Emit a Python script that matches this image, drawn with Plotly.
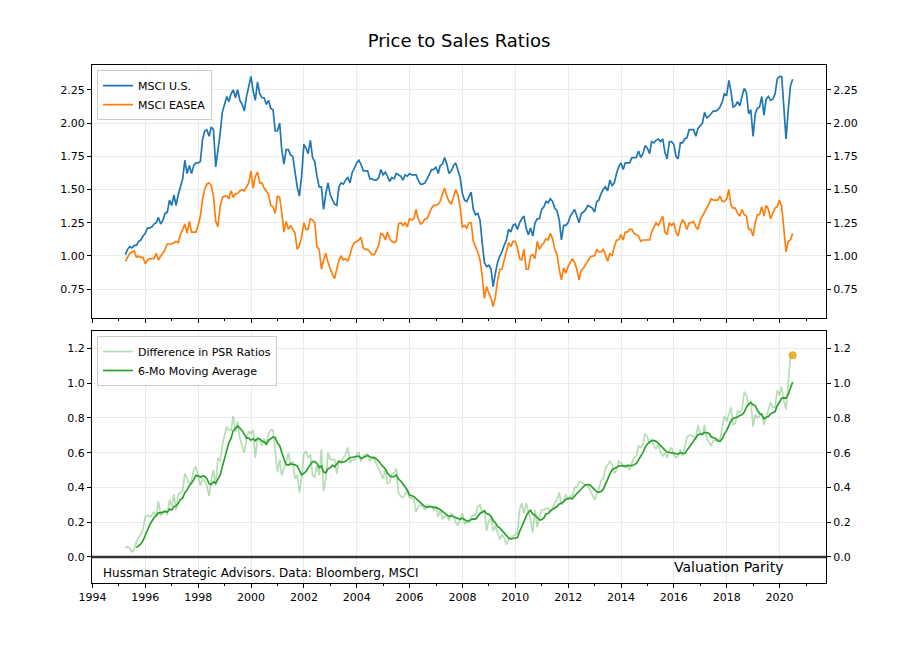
import numpy as np
import pandas as pd
import plotly.graph_objects as go

# ---------------- data (monthly, month-end, Mar 1995 .. Jun 2020) ----------------
first_month = "1995-03-01"

msci_us = [
    1.01, 1.05, 1.07, 1.06, 1.08, 1.08, 1.11, 1.12, 1.15, 1.17, 1.21, 1.21,
    1.22, 1.24, 1.25, 1.29, 1.24, 1.27, 1.32, 1.33, 1.42, 1.38, 1.46, 1.38,
    1.46, 1.53, 1.58, 1.72, 1.62, 1.68, 1.62, 1.68, 1.70, 1.70, 1.71, 1.87,
    1.94, 1.95, 1.90, 1.97, 1.95, 1.67, 1.79, 1.92, 2.08, 2.15, 2.20, 2.16,
    2.22, 2.25, 2.19, 2.25, 2.17, 2.14, 2.09, 2.20, 2.27, 2.35, 2.24, 2.17,
    2.31, 2.22, 2.19, 2.19, 2.14, 2.17, 2.11, 2.10, 1.94, 1.94, 2.00, 1.80,
    1.69, 1.80, 1.80, 1.76, 1.75, 1.62, 1.52, 1.45, 1.60, 1.84, 1.81, 1.77,
    1.87, 1.74, 1.71, 1.60, 1.52, 1.52, 1.35, 1.47, 1.55, 1.46, 1.42, 1.39,
    1.38, 1.52, 1.55, 1.54, 1.57, 1.59, 1.55, 1.63, 1.66, 1.70, 1.72, 1.69,
    1.64, 1.64, 1.64, 1.58, 1.58, 1.57, 1.57, 1.59, 1.65, 1.61, 1.63, 1.60,
    1.56, 1.59, 1.58, 1.62, 1.61, 1.60, 1.57, 1.61, 1.60, 1.62, 1.61, 1.61,
    1.61, 1.57, 1.54, 1.54, 1.55, 1.58, 1.61, 1.65, 1.65, 1.67, 1.62, 1.68,
    1.69, 1.74, 1.69, 1.62, 1.64, 1.68, 1.70, 1.64, 1.59, 1.47, 1.42, 1.41,
    1.45, 1.48, 1.35, 1.31, 1.32, 1.27, 1.10, 0.95, 0.92, 0.93, 0.90, 0.77,
    0.87, 0.95, 1.00, 1.03, 1.08, 1.12, 1.20, 1.18, 1.23, 1.24, 1.20, 1.25,
    1.28, 1.30, 1.21, 1.16, 1.21, 1.15, 1.25, 1.28, 1.28, 1.35, 1.37, 1.41,
    1.40, 1.43, 1.41, 1.36, 1.34, 1.27, 1.12, 1.23, 1.23, 1.25, 1.30, 1.33,
    1.35, 1.30, 1.25, 1.32, 1.33, 1.35, 1.38, 1.37, 1.36, 1.33, 1.41, 1.42,
    1.47, 1.50, 1.52, 1.49, 1.57, 1.53, 1.55, 1.62, 1.67, 1.70, 1.65, 1.70,
    1.70, 1.70, 1.74, 1.74, 1.74, 1.79, 1.74, 1.77, 1.83, 1.81, 1.77, 1.86,
    1.85, 1.87, 1.88, 1.86, 1.88, 1.78, 1.73, 1.86, 1.86, 1.84, 1.75, 1.73,
    1.85, 1.85, 1.88, 1.89, 1.95, 1.95, 1.95, 1.90, 1.96, 1.98, 2.00, 2.08,
    2.04, 2.05, 2.07, 2.09, 2.09, 2.10, 2.12, 2.16, 2.22, 2.21, 2.32, 2.24,
    2.12, 2.13, 2.16, 2.13, 2.20, 2.26, 2.23, 2.07, 2.10, 1.90, 2.07, 2.11,
    2.12, 2.20, 2.06, 2.18, 2.20, 2.17, 2.18, 2.22, 2.33, 2.35, 2.35, 2.10,
    1.88, 2.10, 2.28, 2.33,
]

msci_easea = [
    0.96, 0.99, 1.02, 1.03, 1.04, 0.99, 1.00, 0.99, 0.99, 0.94, 0.97, 0.98,
    0.98, 0.98, 1.02, 0.97, 1.00, 1.02, 1.05, 1.09, 1.09, 1.09, 1.10, 1.11,
    1.10, 1.16, 1.20, 1.24, 1.17, 1.26, 1.18, 1.18, 1.18, 1.23, 1.30, 1.42,
    1.50, 1.54, 1.55, 1.53, 1.45, 1.26, 1.22, 1.37, 1.44, 1.45, 1.45, 1.43,
    1.49, 1.44, 1.47, 1.47, 1.49, 1.50, 1.49, 1.52, 1.55, 1.64, 1.51, 1.60,
    1.63, 1.55, 1.55, 1.51, 1.49, 1.46, 1.38, 1.37, 1.32, 1.45, 1.44, 1.33,
    1.18, 1.26, 1.20, 1.23, 1.20, 1.17, 1.05, 1.08, 1.14, 1.25, 1.20, 1.20,
    1.28, 1.27, 1.25, 1.07, 1.05, 0.90, 0.97, 1.02, 0.95, 0.90, 0.86, 0.83,
    0.90, 0.97, 1.00, 0.97, 0.98, 0.96, 1.01, 1.07, 1.10, 1.11, 1.12, 1.14,
    1.06, 1.05, 1.05, 1.03, 1.01, 1.01, 1.04, 1.08, 1.17, 1.16, 1.12, 1.18,
    1.13, 1.11, 1.10, 1.11, 1.24, 1.25, 1.23, 1.25, 1.22, 1.28, 1.27, 1.28,
    1.35, 1.28, 1.24, 1.25, 1.28, 1.28, 1.32, 1.36, 1.38, 1.38, 1.39, 1.41,
    1.47, 1.51, 1.45, 1.41, 1.39, 1.44, 1.50, 1.46, 1.37, 1.22, 1.23, 1.21,
    1.25, 1.25, 1.11, 1.07, 1.03, 0.97, 0.85, 0.68, 0.77, 0.72, 0.68, 0.62,
    0.69, 0.81, 0.90, 0.90, 0.97, 1.05, 1.10, 1.07, 1.11, 1.11, 1.06, 0.98,
    0.97, 1.05, 0.90, 0.90, 1.00, 1.01, 0.98, 1.11, 1.05, 1.08, 1.10, 1.13,
    1.12, 1.17, 1.13, 1.05, 1.01, 0.90, 0.82, 0.91, 0.87, 0.92, 0.95, 0.98,
    0.95, 0.90, 0.82, 0.89, 0.91, 0.94, 0.97, 0.99, 1.00, 1.00, 1.05, 1.03,
    1.03, 1.05, 1.01, 0.96, 1.02, 1.00, 1.07, 1.12, 1.12, 1.16, 1.12, 1.18,
    1.18, 1.20, 1.20, 1.17, 1.16, 1.15, 1.11, 1.12, 1.12, 1.12, 1.12, 1.18,
    1.21, 1.25, 1.23, 1.26, 1.30, 1.18, 1.16, 1.25, 1.23, 1.25, 1.18, 1.15,
    1.23, 1.27, 1.25, 1.20, 1.25, 1.25, 1.26, 1.22, 1.20, 1.27, 1.30, 1.32,
    1.36, 1.39, 1.43, 1.42, 1.42, 1.42, 1.45, 1.41, 1.41, 1.43, 1.50, 1.38,
    1.36, 1.36, 1.32, 1.30, 1.35, 1.31, 1.30, 1.20, 1.20, 1.15, 1.25, 1.31,
    1.31, 1.37, 1.30, 1.38, 1.35, 1.28, 1.32, 1.36, 1.37, 1.42, 1.37, 1.20,
    1.03, 1.11, 1.12, 1.17,
]

top_ticks = [0.75, 1.00, 1.25, 1.50, 1.75, 2.00, 2.25]
bottom_ticks = [0.0, 0.2, 0.4, 0.6, 0.8, 1.0, 1.2]
bottom_range = [-0.15, 1.30]

# ---------------- derived series ----------------
n = len(msci_us)
dates = pd.date_range(first_month, periods=n, freq="MS") + pd.offsets.MonthEnd(0)
us = pd.Series(msci_us, index=dates)
ea = pd.Series(msci_easea, index=dates)
diff = us - ea
ma6 = diff.rolling(6).mean()

# matplotlib-like 5% margins
span = dates[-1] - dates[0]
x_range = [dates[0] - span * 0.05, dates[-1] + span * 0.05]
lo = min(us.min(), ea.min())
hi = max(us.max(), ea.max())
top_range = [lo - 0.05 * (hi - lo), hi + 0.05 * (hi - lo)]

FONT = "DejaVu Sans"
GRID = "#ebebeb"
BLUE, ORANGE, GREEN = "#1f77b4", "#ff7f0e", "#2ca02c"

fig = go.Figure()
fig.add_trace(go.Scatter(x=dates, y=us, name="MSCI U.S.", mode="lines",
                         line=dict(color=BLUE, width=1.7), xaxis="x", yaxis="y",
                         legend="legend"))
fig.add_trace(go.Scatter(x=dates, y=ea, name="MSCI EASEA", mode="lines",
                         line=dict(color=ORANGE, width=1.7), xaxis="x", yaxis="y",
                         legend="legend"))
fig.add_trace(go.Scatter(x=dates, y=diff, name="Difference in PSR Ratios", mode="lines",
                         line=dict(color="rgba(44,160,44,0.35)", width=1.7),
                         xaxis="x2", yaxis="y2", legend="legend2"))
fig.add_trace(go.Scatter(x=dates, y=ma6, name="6-Mo Moving Average", mode="lines",
                         line=dict(color=GREEN, width=1.7),
                         xaxis="x2", yaxis="y2", legend="legend2"))
fig.add_trace(go.Scatter(x=[dates[-1]], y=[diff.iloc[-1]], mode="markers",
                         marker=dict(color="rgba(232,168,36,0.9)", size=8),
                         xaxis="x2", yaxis="y2", showlegend=False, hoverinfo="skip"))
# invisible traces that carry the right-hand twin axes
fig.add_trace(go.Scatter(x=dates, y=us, mode="lines", line=dict(width=0, color="rgba(0,0,0,0)"),
                         xaxis="x", yaxis="y3", showlegend=False, hoverinfo="skip"))
fig.add_trace(go.Scatter(x=dates, y=diff, mode="lines", line=dict(width=0, color="rgba(0,0,0,0)"),
                         xaxis="x2", yaxis="y4", showlegend=False, hoverinfo="skip"))

x_common = dict(type="date", range=x_range, dtick="M24", tick0="1994-01-01",
                tickformat="%Y", ticks="outside", ticklen=4, tickwidth=1, tickcolor="black",
                minor=dict(dtick="M12", tick0="1994-01-01", ticks="outside", ticklen=2,
                           tickcolor="black", showgrid=False),
                showgrid=True, gridcolor=GRID, gridwidth=0.8,
                showline=True, linecolor="black", linewidth=1, mirror=True,
                zeroline=False, tickfont=dict(size=11, color="black"))
y_common = dict(ticks="outside", ticklen=4, tickwidth=1, tickcolor="black",
                showgrid=True, gridcolor=GRID, gridwidth=0.8,
                showline=True, linecolor="black", linewidth=1, mirror=True,
                zeroline=False, tickfont=dict(size=11, color="black"))
y_right = dict(ticks="outside", ticklen=4, tickwidth=1, tickcolor="black",
               showgrid=False, showline=False, zeroline=False, side="right",
               tickfont=dict(size=11, color="black"))

top_dom = [0.5116, 1.0]
bot_dom = [0.0, 0.4865]

fig.update_layout(
    width=918, height=648,
    margin=dict(l=92, r=92, t=65, b=65),
    paper_bgcolor="white", plot_bgcolor="white",
    font=dict(family=FONT, size=11, color="black"),
    title=dict(text="Price to Sales Ratios", x=0.5, xanchor="center",
               y=1 - 41 / 648, yanchor="middle", font=dict(size=18, family=FONT)),
    xaxis=dict(**x_common, domain=[0, 1], anchor="y", showticklabels=False),
    xaxis2=dict(**x_common, domain=[0, 1], anchor="y2", showticklabels=True),
    yaxis=dict(**y_common, domain=top_dom, anchor="x", range=top_range,
               tickvals=top_ticks, tickformat=".2f"),
    yaxis2=dict(**y_common, domain=bot_dom, anchor="x2", range=bottom_range,
                tickvals=bottom_ticks, tickformat=".1f"),
    yaxis3=dict(**y_right, overlaying="y", anchor="x", range=top_range,
                tickvals=top_ticks, tickformat=".2f"),
    yaxis4=dict(**y_right, overlaying="y2", anchor="x2", range=bottom_range,
                tickvals=bottom_ticks, tickformat=".1f"),
    legend=dict(x=0.0068, y=0.990, xanchor="left", yanchor="top",
                bgcolor="rgba(255,255,255,0.8)", bordercolor="#cccccc", borderwidth=1,
                font=dict(size=11, family=FONT), itemwidth=30, tracegroupgap=0),
    legend2=dict(x=0.0068, y=0.4768, xanchor="left", yanchor="top",
                 bgcolor="rgba(255,255,255,0.8)", bordercolor="#cccccc", borderwidth=1,
                 font=dict(size=11, family=FONT), itemwidth=30, tracegroupgap=0),
    shapes=[dict(type="line", xref="x2 domain", yref="y2", x0=0, x1=1, y0=0, y1=0,
                 line=dict(color="#333333", width=2.5))],
    annotations=[
        dict(text="Hussman Strategic Advisors. Data: Bloomberg, MSCI", xref="x2 domain",
             yref="y2", x=0.0119, y=-0.094, xanchor="left", yanchor="middle",
             showarrow=False, font=dict(size=12, family=FONT, color="black")),
        dict(text="Valuation Parity", xref="x2 domain", yref="y2", x=0.868, y=-0.058,
             xanchor="center", yanchor="middle", showarrow=False,
             font=dict(size=14, family=FONT, color="black")),
    ],
    showlegend=True,
)

fig.write_html("out.html", config={"displayModeBar": False},
               post_script="document.body.style.margin='0px';")
